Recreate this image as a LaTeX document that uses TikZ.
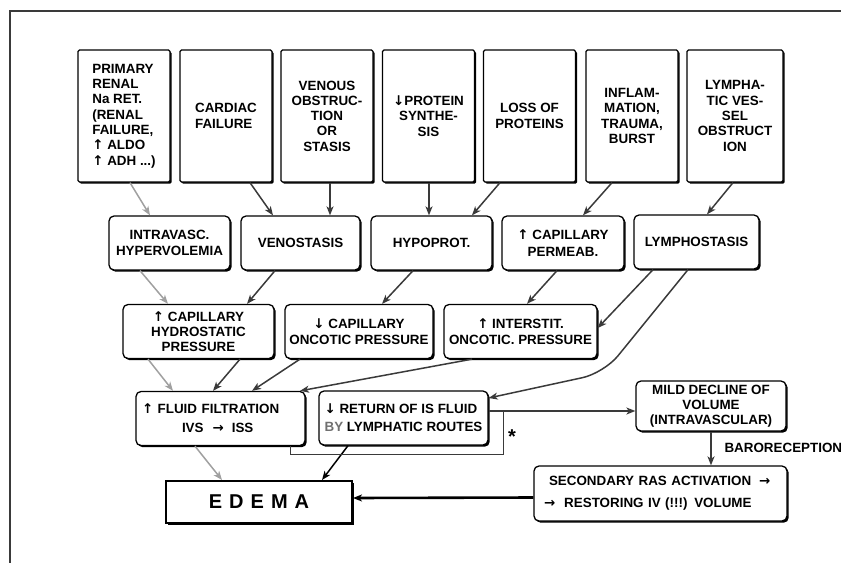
\documentclass[tikz,border=0pt]{standalone}
\usepackage{fontspec}
\setmainfont{Liberation Sans}
\newfontfamily\arrowfont{DejaVu Sans}
\usetikzlibrary{arrows.meta,shadows}
\newcommand{\UpArr}{{\arrowfont ↑}}
\newcommand{\DnArr}{{\arrowfont ↓}}
\newcommand{\RtArr}{{\arrowfont →}}
\definecolor{inkdark}{HTML}{3A3A3A}
\definecolor{inklight}{HTML}{A0A0A0}
\definecolor{bygray}{HTML}{707070}

\begin{document}
\begin{tikzpicture}[x=1pt,y=-1pt,
  every node/.style={font=\bfseries\fontsize{13.4}{14.8}\selectfont},
  boxbase/.style={draw=black, line width=1.3pt, fill=white, inner sep=2pt,
    drop shadow={shadow xshift=1.7pt, shadow yshift=-1.7pt, opacity=1, fill=black}},
  cause/.style={boxbase, rounded corners=1.5pt, minimum width=92pt, minimum height=132pt,
    font=\bfseries\fontsize{13.4}{15.3}\selectfont},
  state/.style={boxbase, rounded corners=5pt, minimum height=54pt},
  flow/.style={draw=inkdark, line width=1.5pt, -{Stealth[length=9pt,width=7pt,inset=2.5pt]}},
  faint/.style={flow, draw=inklight},
]
\useasboundingbox (0,0) rectangle (841,563);

% outer frame
\draw[line width=1.2pt, draw=inkdark] (841,11) -- (10,11) -- (10,563);

% primary causes
\node[cause, align=left] (c1) at (124,116) {PRIMARY\\RENAL\\Na RET.\\(RENAL\\FAILURE,\\\UpArr\ ALDO\\\UpArr\ ADH ...)};
\node[cause, align=left] (c2) at (226,116) {CARDIAC\\FAILURE};
\node[cause, align=center] (c3) at (327,116) {VENOUS\\OBSTRUC-\\TION\\OR\\STASIS};
\node[cause, align=center] (c4) at (428.5,116) {\DnArr PROTEIN\\SYNTHE-\\SIS};
\node[cause, align=center] (c5) at (529.5,116) {LOSS OF\\PROTEINS};
\node[cause, align=center] (c6) at (632,116) {INFLAM-\\MATION,\\TRAUMA,\\BURST};
\node[cause, align=center, minimum width=96pt] (c7) at (735,116) {LYMPHA-\\TIC VES-\\SEL\\OBSTRUCT\\ION};

% intermediate states
\node[state, minimum width=121pt, align=center] (hyperv) at (169.5,243) {INTRAVASC.\\[1.5pt]HYPERVOLEMIA};
\node[state, minimum width=119pt] (venost) at (300.5,243) {VENOSTASIS};
\node[state, minimum width=121pt] (hypop) at (431.5,243) {HYPOPROT.};
\node[state, minimum width=122pt, align=center] (perm) at (563,243) {\UpArr\ CAPILLARY\\[1.5pt]PERMEAB.};
\node[state, minimum width=125pt] (lymph) at (696.5,242) {LYMPHOSTASIS};

% pressure changes
\node[state, minimum width=151pt, align=center] (hydro) at (198.5,331.5) {\UpArr\ CAPILLARY\\HYDROSTATIC\\PRESSURE};
\node[state, minimum width=148pt, align=center] (onco) at (359,331.5) {\DnArr\ CAPILLARY\\[1pt]ONCOTIC PRESSURE};
\node[state, minimum width=153pt, align=center] (inter) at (520.5,331.5) {\UpArr\ INTERSTIT.\\[1pt]ONCOTIC. PRESSURE};

% fluid balance
\node[state, minimum width=169pt, text width=157pt, align=left] (filt) at (220.5,418.5)
  {\UpArr\ FLUID FILTRATION\\[4.5pt]\hspace*{40pt}IVS\hspace{9pt}\RtArr\hspace{8pt}ISS};
\node[state, minimum width=169pt, align=left] (ret) at (403.5,418)
  {\DnArr\ RETURN OF IS FLUID\\[3pt]{\color{bygray}BY} LYMPHATIC ROUTES};
\node[state, minimum width=150pt, minimum height=50pt, align=center] (mild) at (711,406)
  {MILD DECLINE OF\\VOLUME\\(INTRAVASCULAR)};
\node[state, minimum width=253pt, minimum height=55pt, text width=233pt, align=left] (ras) at (660.5,493.5)
  {\hspace*{5pt}SECONDARY RAS ACTIVATION\hspace{8pt}\RtArr\\[7.5pt]\RtArr\hspace{9pt}RESTORING IV (!!!) VOLUME};
\node[boxbase, line width=2pt, minimum width=186pt, minimum height=42pt] (edema) at (259,502)
  {\fontsize{20}{22}\selectfont E\hspace{7pt}D\hspace{7pt}E\hspace{7pt}M\hspace{7pt}A};

\node[anchor=west] (baro) at (721,448) {BARORECEPTION};
\node (star) at (512,437) {\fontsize{20}{20}\selectfont *};

% causes -> states
\draw[faint] ([xshift=6pt]c1.south) -- ([xshift=-19.5pt]hyperv.north);
\draw[flow] ([xshift=24pt]c2.south) -- ([xshift=-27.5pt]venost.north);
\draw[flow] ([xshift=3pt]c3.south) -- ([xshift=29.5pt]venost.north);
\draw[flow] ([xshift=0.5pt]c4.south) -- ([xshift=-2.5pt]hypop.north);
\draw[flow] ([xshift=-29.5pt]c5.south) -- ([xshift=40.5pt]hypop.north);
\draw[flow] ([xshift=-20pt]c6.south) -- ([xshift=20pt]perm.north);
\draw[flow] ([xshift=-2pt]c7.south) -- ([xshift=10.5pt]lymph.north);

% states -> pressures
\draw[faint] ([xshift=-29.5pt]hyperv.south) -- ([xshift=-30.5pt]hydro.north);
\draw[flow] ([xshift=-25.5pt]venost.south) -- ([xshift=48.5pt]hydro.north);
\draw[flow] ([xshift=-18.5pt]hypop.south) -- ([xshift=23pt]onco.north);
\draw[flow] ([xshift=-6pt]perm.south) -- ([xshift=6.5pt]inter.north);
\draw[flow] ([xshift=-43.5pt]lymph.south) -- ([yshift=3.5pt]inter.east);
\coordinate (lbend) at (604,373);
\draw[flow, rounded corners=22pt] ([xshift=-8.5pt]lymph.south) -- (lbend) -- ([yshift=20pt]ret.east);

% pressures -> filtration
\draw[faint] ([xshift=-50.5pt]hydro.south) -- ([xshift=-47.5pt]filt.north);
\draw[flow] ([xshift=41.5pt]hydro.south) -- ([xshift=-7.5pt]filt.north);
\draw[flow] ([xshift=-59pt]onco.south) -- ([xshift=31.5pt]filt.north);
\draw[flow] ([xshift=-48.5pt]inter.south) -- ([xshift=79.5pt]filt.north);

% towards edema
\draw[faint] ([xshift=-25.5pt]filt.south) -- ([xshift=-37pt]edema.north);
\draw[flow, draw=black] ([xshift=-55.5pt]ret.south) -- ([xshift=63pt]edema.north);
\coordinate (split) at (503,411);
\draw[flow] ([yshift=7pt]ret.east) -- ([yshift=-5pt]mild.west);
\draw[draw=inkdark, line width=0.9pt] ([xshift=69.5pt]filt.south) -- ++(0,8) -| (split);
\draw[flow] (mild.south) -- (mild.south |- ras.north);
\draw[flow, draw=black, line width=2.6pt] ([yshift=-4pt]ras.west) -- ([yshift=4pt]edema.east);

\end{tikzpicture}
\end{document}
